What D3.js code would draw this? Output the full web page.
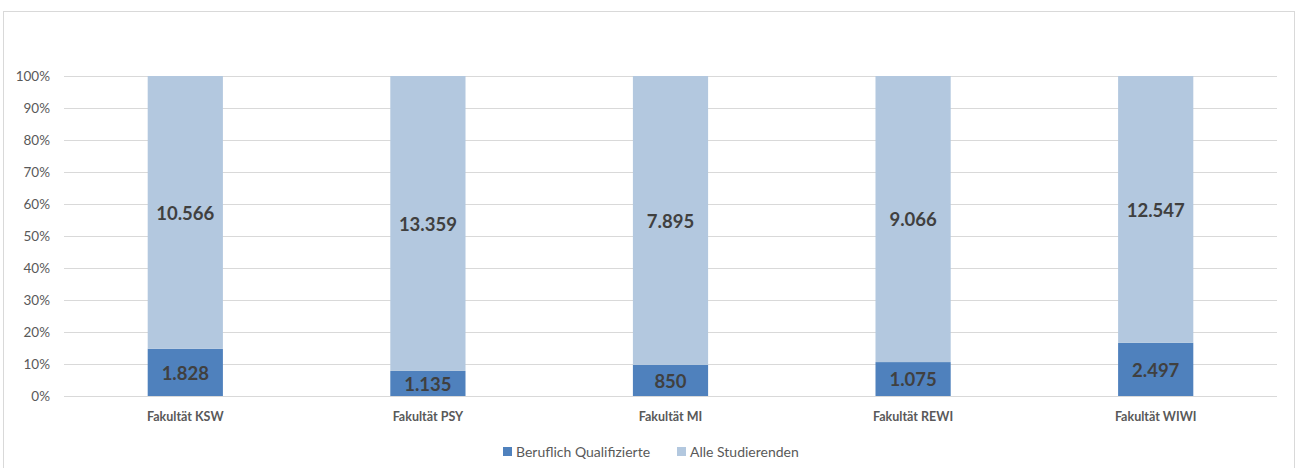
<!DOCTYPE html>
<html><head><meta charset="utf-8">
<script src="https://cdn.jsdelivr.net/npm/d3@7"></script>
<style>body{margin:0;background:#fff;} svg{display:block;font-family:Lato,"Open Sans",sans-serif;}</style>
</head><body><svg id="c" width="1296" height="468"></svg>
<script>
const categories = ["Fakultät KSW","Fakultät PSY","Fakultät MI","Fakultät REWI","Fakultät WIWI"];
const beruflich = [1828,1135,850,1075,2497];
const alle = [10566,13359,7895,9066,12547];
const seriesNames = ["Beruflich Qualifizierte","Alle Studierenden"];
const tickValues = [0,0.1,0.2,0.3,0.4,0.5,0.6,0.7,0.8,0.9,1.0];
const colors = ["#4f81bd","#b3c8df"];

const svg = d3.select("#c");
svg.append("rect").attr("x",3.5).attr("y",11.5).attr("width",1291).attr("height",470)
  .attr("fill","none").attr("stroke","#d9d9d9");

const x = d3.scaleBand().domain(categories).range([64,1277]).paddingInner(0.69).paddingOuter(0.345);
const y = d3.scaleLinear().domain([0,1]).range([396,76]);
const fmt = d3.formatLocale({decimal:",",thousands:".",grouping:[3]}).format(",d");

svg.append("g").selectAll("line").data(tickValues).join("line")
  .attr("x1",64).attr("x2",1277).attr("y1",d=>y(d)+0.5).attr("y2",d=>y(d)+0.5)
  .attr("stroke","#d9d9d9").attr("stroke-width",1);
svg.append("g").selectAll("text").data(tickValues).join("text")
  .attr("x",50).attr("y",d=>y(d)).attr("dy","0.35em").attr("text-anchor","end")
  .attr("font-size",13.5).attr("fill","#595959").text(d=>Math.round(d*100)+"%");

const rows = categories.map((c,i)=>({cat:c, b:beruflich[i], a:alle[i]}));
const stack = d3.stack().keys(["b","a"]).offset(d3.stackOffsetExpand)(rows);

stack.forEach((s,si)=>{
  const g = svg.append("g");
  g.selectAll("rect").data(s).join("rect")
    .attr("x",d=>x(d.data.cat)).attr("width",x.bandwidth())
    .attr("y",d=>y(d[1])).attr("height",d=>y(d[0])-y(d[1]))
    .attr("fill",colors[si]);
  g.selectAll("text").data(s).join("text")
    .attr("x",d=>x(d.data.cat)+x.bandwidth()/2)
    .attr("y",d=>y((d[0]+d[1])/2)).attr("dy","0.4em")
    .attr("text-anchor","middle").attr("font-size",18.5).attr("font-weight","bold")
    .attr("fill","#404040").text(d=>fmt(d.data[s.key]));
});

svg.append("g").selectAll("text").data(categories).join("text")
  .attr("x",d=>x(d)+x.bandwidth()/2).attr("y",421).attr("text-anchor","middle")
  .attr("font-size",12.5).attr("font-weight","bold").attr("fill","#595959").text(d=>d);

const legX = [503,677];
seriesNames.forEach((n,i)=>{
  svg.append("rect").attr("x",legX[i]).attr("y",447).attr("width",9).attr("height",9).attr("fill",colors[i]);
  svg.append("text").attr("x",legX[i]+13).attr("y",452).attr("dy","0.35em")
    .attr("font-size",14).attr("fill","#595959").text(n);
});
</script></body></html>
